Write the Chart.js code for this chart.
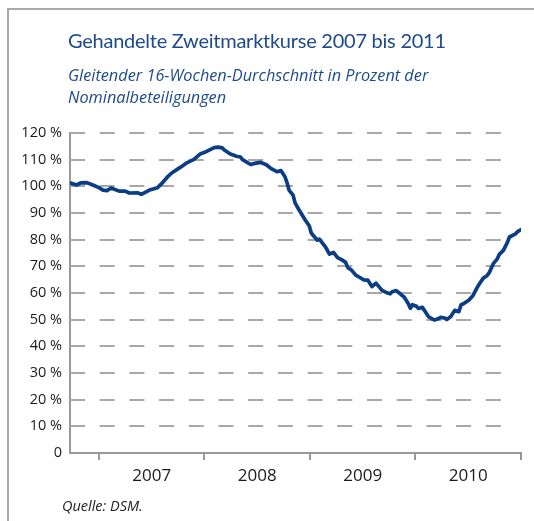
<!DOCTYPE html>
<html>
<head>
<meta charset="utf-8">
<script src="https://cdn.jsdelivr.net/npm/chart.js@4/dist/chart.umd.min.js"></script>
<style>
  html, body { margin: 0; padding: 0; background: #fff; }
  #wrap { position: relative; width: 534px; height: 521px; overflow: hidden; }
  #frame { position: absolute; left: 7px; top: 8px; right: 0; bottom: 0;
           border-top: 2px solid #aaa; border-left: 2px solid #aaa; }
  canvas { position: absolute; left: 0; top: 0; }
  .txt { position: absolute; left: 68px; color: #1d4a8c; white-space: nowrap; font-family: Lato, "Open Sans", sans-serif; }
  #title { top: 27px; font-size: 20px; line-height: 26px; letter-spacing: -0.25px; }
  #sub { top: 64px; font-size: 16.3px; line-height: 22px; font-style: italic; font-family: "Open Sans", sans-serif; }
  #src { left: 62px; top: 497px; font-size: 14.5px; line-height: 18px; font-style: italic; color: #222; font-family: "Open Sans", sans-serif; }
</style>
</head>
<body>
<div id="wrap">
  <div id="frame"></div>
  <canvas id="chart" width="534" height="521"></canvas>
  <div class="txt" id="title">Gehandelte Zweitmarktkurse 2007 bis 2011</div>
  <div class="txt" id="sub">Gleitender 16-Wochen-Durchschnitt in Prozent der<br>Nominalbeteiligungen</div>
  <div class="txt" id="src">Quelle: DSM.</div>
</div>
<script>
// week number relative to the first week of 2007
const weeks = [-14, -11, -9, -6, -3, 0, 2, 4, 6, 10, 13, 15, 19, 21, 25, 29, 31, 34, 36, 40,
  43, 47, 50, 53, 57, 59, 61, 62, 65, 68, 70, 71, 75, 77, 80, 83, 85, 88, 90, 92,
  93, 94, 96, 97, 99, 102, 104, 105, 108, 109, 112, 114, 116, 118, 120, 122, 123, 125, 127, 129,
  131, 133, 135, 137, 140, 142, 144, 145, 147, 149, 151, 153, 154, 155, 157, 158, 160, 161, 163, 165,
  166, 168, 169, 171, 172, 174, 175, 176, 178, 179, 181, 183, 185, 187, 188, 190, 192, 193, 195, 197,
  198, 200, 202, 203, 206, 207, 209];
// moving average in % of nominal value
const kurse = [101.2, 100.5, 101.3, 101.4, 100.5, 99.5, 98.6, 98.4, 99.4, 98.2, 98.2, 97.5, 97.6, 97.0, 98.6, 99.5, 101.0, 103.6, 105.0, 107.0,
  108.6, 110.1, 112.1, 113.0, 114.5, 114.7, 114.4, 113.6, 112.1, 111.3, 111.0, 110.0, 108.2, 108.6, 109.0, 108.0, 106.7, 105.5, 105.9, 103.6,
  101.4, 98.6, 96.7, 93.8, 91.1, 87.4, 85.2, 82.5, 79.8, 80.2, 77.3, 74.6, 75.2, 73.3, 72.5, 71.5, 69.6, 68.5, 66.7, 65.8,
  64.9, 64.8, 62.4, 63.7, 61.0, 60.2, 59.7, 60.5, 60.9, 59.7, 58.4, 56.0, 54.3, 55.6, 55.0, 54.2, 54.6, 53.4, 51.1, 50.2,
  49.9, 50.4, 50.9, 50.6, 50.0, 51.2, 52.4, 53.5, 53.0, 55.5, 56.3, 57.4, 59.1, 62.0, 63.3, 65.5, 66.6, 67.6, 71.0, 72.8,
  74.5, 76.0, 79.0, 81.0, 82.2, 83.0, 83.9];
const jahre = ['2007', '2008', '2009', '2010'];
const yTicks = [0, 10, 20, 30, 40, 50, 60, 70, 80, 90, 100, 110, 120];

const WEEKS_PER_YEAR = 365.25 / 7;

// dashed horizontal lines, stopping short of the right end like the original
const dashGrid = {
  id: 'dashGrid',
  beforeDatasetsDraw(chart) {
    const { ctx, chartArea, scales } = chart;
    ctx.save();
    ctx.strokeStyle = '#a8a8a8';
    ctx.lineWidth = 2;
    ctx.setLineDash([15, 14.7]);
    yTicks.forEach(v => {
      if (v === 0) return;
      const y = Math.round(scales.y.getPixelForValue(v));
      ctx.beginPath();
      ctx.moveTo(chartArea.left, y);
      ctx.lineTo(chartArea.right - 20, y);
      ctx.stroke();
    });
    ctx.restore();
  }
};

new Chart(document.getElementById('chart'), {
  type: 'line',
  data: {
    datasets: [{
      data: weeks.map((w, i) => ({ x: w, y: kurse[i] })),
      borderColor: '#0a3d84',
      borderWidth: 3.7,
      pointRadius: 0,
      tension: 0,
      borderJoinStyle: 'round',
      borderCapStyle: 'round'
    }]
  },
  options: {
    responsive: false,
    animation: false,
    devicePixelRatio: 1,
    layout: { padding: { left: 0, top: 133, right: 13, bottom: 38 } },
    plugins: { legend: { display: false }, tooltip: { enabled: false } },
    scales: {
      x: {
        type: 'linear',
        min: -14.3,
        max: 4 * WEEKS_PER_YEAR,
        afterBuildTicks(scale) {
          const t = [];
          for (let k = 0; k <= 8; k++) t.push({ value: k * WEEKS_PER_YEAR / 2 });
          scale.ticks = t;
        },
        afterFit(scale) { scale.height = 30; },
        ticks: {
          autoSkip: false,
          maxRotation: 0,
          padding: 6,
          color: '#1a1a1a',
          font: { family: 'Open Sans', size: 17 },
          callback: (v, i) => (i % 2 === 1 ? jahre[(i - 1) / 2] : '')
        },
        grid: {
          drawOnChartArea: false,
          drawTicks: true,
          tickLength: 7,
          lineWidth: 2,
          color: c => (c.index % 2 === 0 ? '#999' : 'rgba(0,0,0,0)')
        },
        border: { display: true, color: '#999', width: 2 }
      },
      y: {
        min: 0,
        max: 120,
        afterBuildTicks(scale) { scale.ticks = yTicks.map(v => ({ value: v })); },
        afterFit(scale) { scale.width = 70; },
        ticks: {
          padding: 8,
          color: '#1a1a1a',
          font: { family: 'Open Sans', size: 14.5 },
          callback: v => (v === 0 ? '0' : v + ' %')
        },
        grid: { display: false, drawTicks: false },
        border: { display: true, color: '#999', width: 2 }
      }
    }
  },
  plugins: [dashGrid]
});
</script>
</body>
</html>
